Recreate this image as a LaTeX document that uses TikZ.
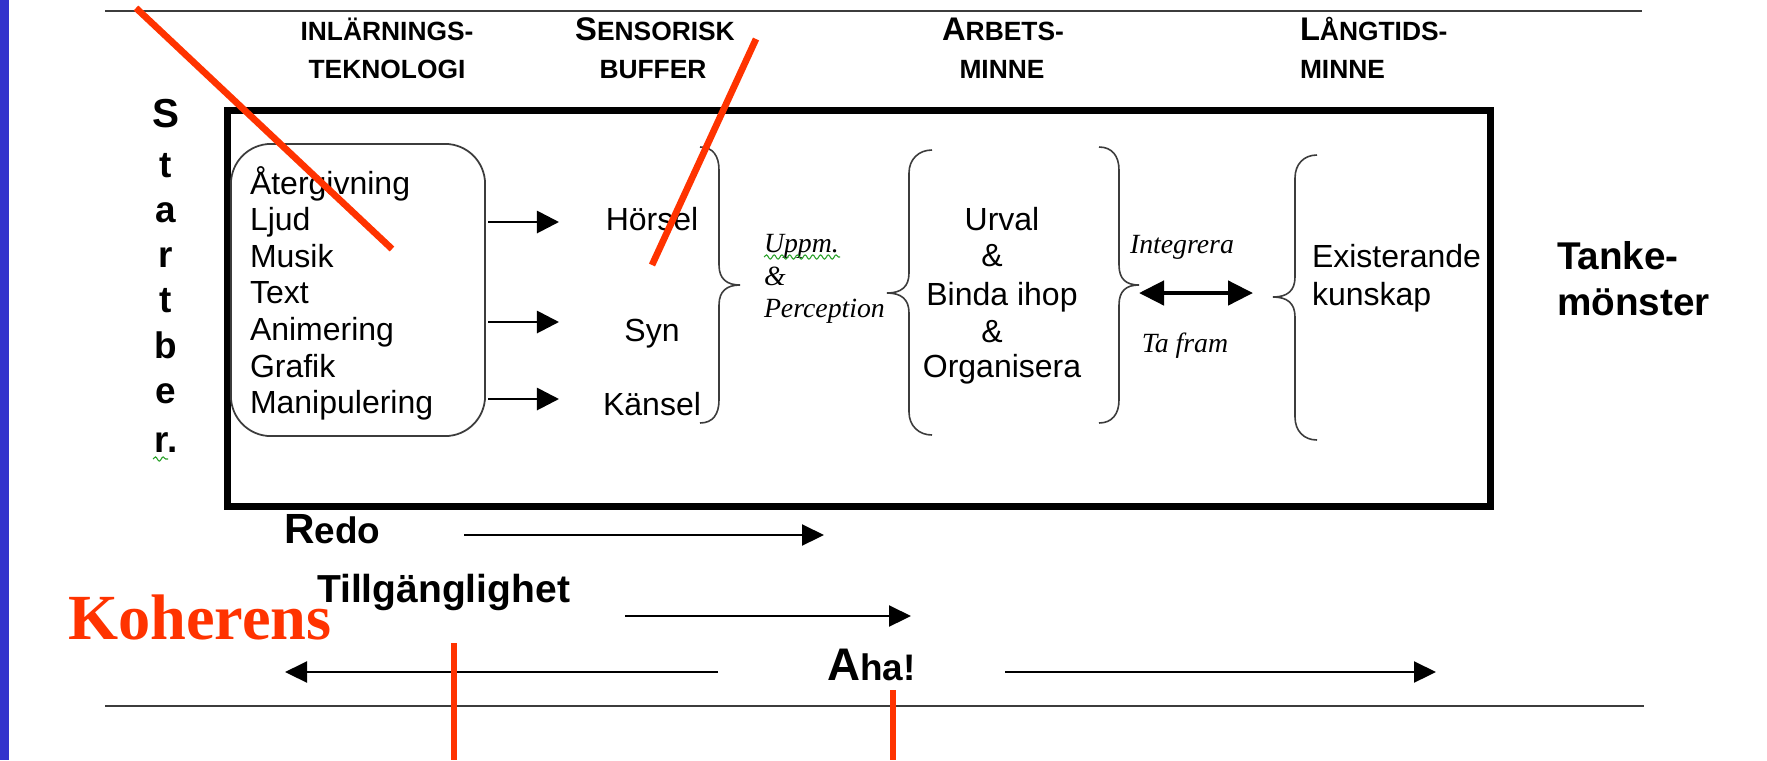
\documentclass[tikz,border=0pt]{standalone}
\usepackage{fontspec}
\setmainfont{Liberation Sans}
\newfontfamily\myserif{Liberation Serif}
\usetikzlibrary{arrows.meta,decorations.pathmorphing}
\definecolor{slideblue}{RGB}{51,51,204}
\definecolor{markred}{RGB}{255,51,0}
\definecolor{rulegray}{RGB}{60,60,60}
\definecolor{spellgreen}{RGB}{40,160,40}
\newcommand\myfs[2]{\fontsize{#1}{#2}\selectfont}
\begin{document}
\begin{tikzpicture}[x=0.01cm,y=-0.01cm,
  every node/.style={inner sep=0pt,outer sep=0pt},
  body/.style={font=\myfs{9.1}{10.5}},
  hdr/.style={font=\bfseries\myfs{7.5}{9}},
  ital/.style={font=\myserif\itshape\myfs{7.9}{9}},
  bigbold/.style={font=\bfseries\myfs{11}{13}},
  vletter/.style={font=\bfseries\myfs{10.5}{12}},
  lowbold/.style={font=\bfseries\myfs{10.5}{12}},
  brc/.style={draw=rulegray,line width=0.45pt},
  arr/.style={line width=0.8pt,-{Triangle[length=0.22cm,width=0.22cm]}},
  thinarr/.style={line width=0.6pt,-{Triangle[length=0.22cm,width=0.21cm]}},
  dblarr/.style={line width=1.3pt,{Triangle[length=0.25cm,width=0.24cm]}-{Triangle[length=0.25cm,width=0.24cm]}},
  redline/.style={draw=markred,line width=1.9pt},
  spell/.style={draw=spellgreen,line width=0.3pt,decorate,decoration={snake,amplitude=0.6pt,segment length=2.2pt}}
]
\fill[white] (0,0) rectangle (1767,760);
\useasboundingbox (0,0) rectangle (1767,760);
\fill[slideblue] (0,0) rectangle (9,760);

% rules
\draw[rulegray,line width=0.6pt] (105,11) -- (1642,11);
\draw[rulegray,line width=0.6pt] (105,706) -- (1644,706);

% headers
\node[hdr,anchor=base] (h1a) at (387,40) {INLÄRNINGS-};
\node[hdr,anchor=base] (h1b) at (387,78) {TEKNOLOGI};
\node[hdr,anchor=base] (h2a) at (655,40) {{\myfs{9.3}{9}S}ENSORISK};
\node[hdr,anchor=base] (h2b) at (653,78) {BUFFER};
\node[hdr,anchor=base] (h3a) at (1003,40) {{\myfs{9.3}{9}A}RBETS-};
\node[hdr,anchor=base] (h3b) at (1002,78) {MINNE};
\node[hdr,anchor=base west] (h4a) at (1300,40) {{\myfs{9.3}{9}L}ÅNGTIDS-};
\node[hdr,anchor=base west] (h4b) at (1300,78) {MINNE};

% frame
\node[draw,line width=2pt,minimum width=12.62cm,minimum height=3.95cm] (frame) at (859,308.5) {};

% learning technology box
\node[draw=rulegray,line width=0.5pt,rounded corners=0.4cm,minimum width=2.54cm,minimum height=2.92cm] (tech) at (358,290) {};
\foreach \t [count=\i] in {Återgivning,Ljud,Musik,Text,Animering,Grafik,Manipulering}
  \node[body,anchor=base west] (t\i) at (250,{194+36.6*(\i-1)}) {\t};

% senses
\node[body,anchor=base] (hor) at (652,230) {Hörsel};
\node[body,anchor=base] (syn) at (652,341) {Syn};
\node[body,anchor=base] (kan) at (652,415) {Känsel};
\coordinate (a1s) at (488,222); \coordinate (a1e) at (559,222);
\coordinate (a2s) at (488,322); \coordinate (a2e) at (559,322);
\coordinate (a3s) at (488,399); \coordinate (a3e) at (559,399);
\draw[arr] (a1s) -- (a1e);
\draw[arr] (a2s) -- (a2e);
\draw[arr] (a3s) -- (a3e);

% brace after senses
\draw[brc] (700,147) .. controls (713,147) and (719,156) .. (719,170) -- (719,265) .. controls (719,279) and (727,285) .. (740,285) .. controls (727,285) and (719,291) .. (719,305) -- (719,400) .. controls (719,414) and (713,423) .. (700,423);

% attention and perception
\node[ital,anchor=base west] (uppm) at (764,252) {Uppm.};
\node[ital,anchor=base west] (amp0) at (764,285) {\&};
\node[ital,anchor=base west] (perc) at (764,317) {Perception};
\draw[spell] (764,257) -- (840,257);

% working memory braces
\draw[brc] (932,150) .. controls (919,150) and (909,159) .. (909,173) -- (909,273) .. controls (909,287) and (901,293) .. (887,293) .. controls (901,293) and (909,299) .. (909,313) -- (909,412) .. controls (909,426) and (919,435) .. (932,435);
\draw[brc] (1099,147) .. controls (1112,147) and (1119,156) .. (1119,170) -- (1119,265) .. controls (1119,279) and (1126,285) .. (1139,285) .. controls (1126,285) and (1119,291) .. (1119,305) -- (1119,400) .. controls (1119,414) and (1112,423) .. (1099,423);
\node[body,anchor=base] (urv) at (1002,230) {Urval};
\node[body,anchor=base] (amp1) at (992,266) {\&};
\node[body,anchor=base] (bind) at (1002,305) {Binda ihop};
\node[body,anchor=base] (amp2) at (992,342) {\&};
\node[body,anchor=base] (org) at (1002,377) {Organisera};

% integrate / retrieve
\node[ital,anchor=base west] (integ) at (1130,253) {Integrera};
\node[ital,anchor=base] (tafr) at (1185,352) {Ta fram};
\coordinate (dl) at (1139,293); \coordinate (dr) at (1253,293);
\draw[dblarr] (dl) -- (dr);

% long term memory
\draw[brc] (1317,155) .. controls (1304,155) and (1295,164) .. (1295,178) -- (1295,277) .. controls (1295,291) and (1287,297) .. (1273,297) .. controls (1287,297) and (1295,303) .. (1295,317) -- (1295,417) .. controls (1295,431) and (1304,440) .. (1317,440);
\node[body,anchor=base west] (exist) at (1312,267) {Existerande};
\node[body,anchor=base west] (kunsk) at (1312,305) {kunskap};

% thought patterns
\node[bigbold,anchor=base west] (tanke) at (1557,269) {Tanke-};
\node[bigbold,anchor=base west] (monst) at (1557,315) {mönster};

% vertical Startber.
\node[font=\bfseries\myfs{11.5}{12},anchor=base] (s1) at (166,127) {S};
\foreach \l/\y [count=\i] in {t/177,a/222,r/267,t/312,b/358,e/403,r./452}
  \node[vletter,anchor=base] (v\i) at (166,\y) {\l};
\draw[spell] (153,459) -- (168,459);

% bottom labels and arrows
\node[lowbold,anchor=base west] (redo) at (284,543) {{\myfs{12}{12}R}edo};
\coordinate (r1) at (464,535); \coordinate (r2) at (824,535);
\draw[thinarr] (r1) -- (r2);
\node[font=\bfseries\myfs{11.1}{12},anchor=base west] (till) at (317,602) {Tillgänglighet};
\coordinate (g1) at (625,616); \coordinate (g2) at (911,616);
\draw[thinarr] (g1) -- (g2);
\node[lowbold,anchor=base west] (aha) at (827,680) {{\myfs{13}{12}A}ha!};
\coordinate (hl1) at (718,672); \coordinate (hl2) at (285,672);
\coordinate (hr1) at (1005,672); \coordinate (hr2) at (1436,672);
\draw[thinarr] (hl1) -- (hl2);
\draw[thinarr] (hr1) -- (hr2);

% red annotations
\node[font=\myserif\bfseries\myfs{18.3}{20},text=markred,anchor=base west] (koh) at (68,639) {Koherens};
\draw[redline] (136,8) -- (392,249);
\draw[redline] (756,39) -- (652,265);
\draw[redline] (454,643) -- (454,760);
\draw[redline] (893,690) -- (893,760);
\end{tikzpicture}
\end{document}
